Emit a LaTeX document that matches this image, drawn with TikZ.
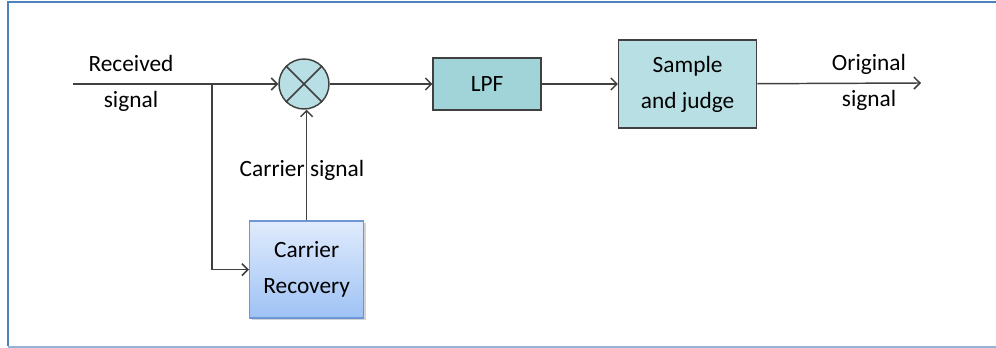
\documentclass[tikz,border=0pt]{standalone}
\usepackage{fontspec}
\setmainfont{Carlito}
\usepackage{tikz}
\usetikzlibrary{arrows.meta,positioning,calc,shadows}
\definecolor{frameblue}{RGB}{79,129,189}
\definecolor{tealbox}{RGB}{160,212,216}
\definecolor{tealsoft}{RGB}{184,224,228}
\definecolor{edge}{RGB}{64,64,64}
\definecolor{cbtop}{RGB}{224,235,252}
\definecolor{cbbot}{RGB}{158,194,245}
\definecolor{cbdraw}{RGB}{110,150,215}
\tikzset{
  blk/.style={draw=edge,line width=1.1pt,align=center,inner sep=2pt},
  mixer/.style={circle,draw=edge,fill=tealsoft,line width=1.1pt,minimum size=37.5pt,inner sep=0},
  lbl/.style={align=center,inner sep=0},
  sig/.style={line width=1.1pt,draw=edge,-{Straight Barb[length=4.5pt,width=9pt]}},
  wire/.style={line width=1.1pt,draw=edge}
}

\begin{document}
\begin{tikzpicture}[x=0.75pt,y=-0.75pt,font=\fontsize{17.5}{27}\selectfont,node distance=5.5mm]
\useasboundingbox (0,0) rectangle (996,348);
% outer frame
\draw[frameblue,line width=1.8pt] (8,346) -- (8,2) -- (996,2);
\draw[frameblue!60,line width=1pt] (8,347) -- (996,347);
\node[mixer] (mix) at (304,84) {};
\draw[edge,line width=1.1pt] (mix.45) -- (mix.225) (mix.135) -- (mix.315);
\node[blk,fill=tealbox,minimum width=81pt,minimum height=39pt,right=77pt of mix] (lpf) {LPF};
\node[blk,fill=tealsoft,minimum width=103.5pt,minimum height=66pt,right=57pt of lpf] (sj) {Sample\\and judge};
\node[blk,draw=cbdraw,top color=cbtop,bottom color=cbbot,drop shadow={opacity=0.35,shadow xshift=1.5pt,shadow yshift=-1.5pt},
  minimum width=85.5pt,minimum height=72.75pt,below=83pt of mix,xshift=2pt] (cr) {Carrier\\Recovery};
\coordinate (in) at (73,84);
\coordinate (br) at (212,84);
\coordinate (out) at (921,83);
\node[lbl] (rx) at (131,83) {Received\\signal};
\node[lbl] (og) at (869,82) {Original\\signal};
\node[lbl] (cs) at (302,170) {Carrier signal};
\draw[wire] (in) -- (br);
\draw[sig] (br) -- (mix);
\draw[sig] (br) |- (cr);
\draw[sig] (cr) -- (cr.north |- mix.south);
\draw[sig] (mix) -- (lpf);
\draw[sig] (lpf) -- (sj);
\draw[sig] (sj) -- (out);
\end{tikzpicture}
\end{document}
